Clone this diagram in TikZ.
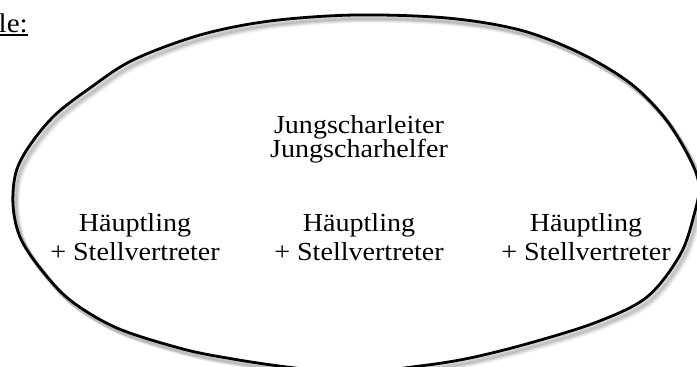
\documentclass[tikz,border=0pt]{standalone}
\usepackage{fontspec}
\setmainfont{Liberation Serif}
\newfontfamily\lblfont[FakeStretch=1.08]{Liberation Serif}
\begin{document}
\begin{tikzpicture}[x=1pt,y=-1pt,
  lbl/.style={inner sep=0pt, anchor=base, align=center},
  tight/.style={font=\lblfont\fontsize{26}{24}\selectfont},
  loose/.style={font=\lblfont\fontsize{26}{29}\selectfont},
  rim/.style={line width=2.8pt, black},
  shade/.style={line width=4pt, black!45}]
\useasboundingbox (0,0) rectangle (697,367);
\clip (0,0) rectangle (697,367);
\fill[white] (0,0) rectangle (697,367);
% shadow then outline
\foreach \dx/\dy/\op in {5/6/0.10, 4/5/0.15, 3/4/0.22, 2/3/0.3}{
\draw[shade, opacity=\op, shift={(\dx,\dy)}] plot[smooth cycle, tension=0.55] coordinates {
 (355,15) (447,18) (520,30) (580,53) (630,83) (664,117) (688,155) (699,185)
 (694,215) (680,255) (647,297) (597,322) (530,343) (470,358) (420,366)
 (350,373) (287,367) (233,359) (183,349) (117,328) (70,300) (40,268)
 (20,237) (13,205) (16,172) (30,145) (55,115) (90,88) (133,60) (200,35) (270,21)};
}
\draw[rim] plot[smooth cycle, tension=0.55] coordinates {
 (355,15) (447,18) (520,30) (580,53) (630,83) (664,117) (688,155) (699,185)
 (694,215) (680,255) (647,297) (597,322) (530,343) (470,358) (420,366)
 (350,373) (287,367) (233,359) (183,349) (117,328) (70,300) (40,268)
 (20,237) (13,205) (16,172) (30,145) (55,115) (90,88) (133,60) (200,35) (270,21)};
% title fragment
\node[inner sep=0pt, anchor=base east, font=\lblfont\fontsize{27}{29}\selectfont] (title) at (28,32) {le:};
\coordinate (ulend) at (28,35);
\draw[line width=1.4pt] (title.base west |- ulend) -- (ulend);
% texts (base anchor = baseline of the last line)
\node[lbl, tight] (jung) at (359,157) {Jungscharleiter\\Jungscharhelfer};
\node[lbl, loose] (g1) at (135,260) {Häuptling\\+ Stellvertreter};
\node[lbl, loose] (g2) at (359,260) {Häuptling\\+ Stellvertreter};
\node[lbl, loose] (g3) at (586,260) {Häuptling\\+ Stellvertreter};
\end{tikzpicture}
\end{document}
